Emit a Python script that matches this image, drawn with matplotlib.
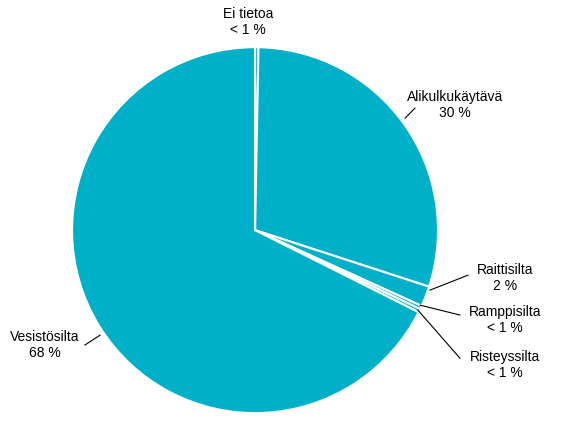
import matplotlib
matplotlib.use("Agg")
import matplotlib.pyplot as plt

plt.rcParams['font.family'] = ['Liberation Sans', 'DejaVu Sans']

categories = ["Ei tietoa", "Alikulkukäytävä", "Raittisilta", "Ramppisilta", "Risteyssilta", "Vesistösilta"]
values = [0.3, 29.7, 1.8, 0.3, 0.3, 67.6]
value_labels = ["< 1 %", "30 %", "2 %", "< 1 %", "< 1 %", "68 %"]

fig = plt.figure(figsize=(5.63, 4.25), dpi=100)
ax = fig.add_axes([0.128, 0.028, 0.65, 0.861])
ax.pie(values, startangle=90, counterclock=False, colors=["#00AFC8"] * len(values),
       wedgeprops=dict(edgecolor="white", linewidth=1.5))
ax.set_xlim(-1, 1)
ax.set_ylim(-1, 1)
ax.set_aspect("auto")

# text position, line start (on wedge), line end
ann = [
    ((-0.038, 1.137), None, None, "center"),
    ((1.093, 0.683), (0.82, 0.612), (0.874, 0.667), "center"),
    ((1.366, -0.262), (0.956, -0.328), (1.164, -0.246), "center"),
    ((1.366, -0.492), (0.902, -0.41), (1.12, -0.464), "center"),
    ((1.366, -0.738), (0.89, -0.437), (1.12, -0.70), "center"),
    ((-1.148, -0.628), (-0.847, -0.574), (-0.93, -0.628), "center"),
]
for cat, lab, (txt, p0, p1, ha) in zip(categories, value_labels, ann):
    ax.text(txt[0], txt[1], f"{cat}\n{lab}", ha=ha, va="center", fontsize=10,
            linespacing=1.15, clip_on=False)
    if p0 is not None:
        ax.plot([p0[0], p1[0]], [p0[1], p1[1]], color="black", lw=0.8, clip_on=False)

fig.savefig("out.png", dpi=100)
